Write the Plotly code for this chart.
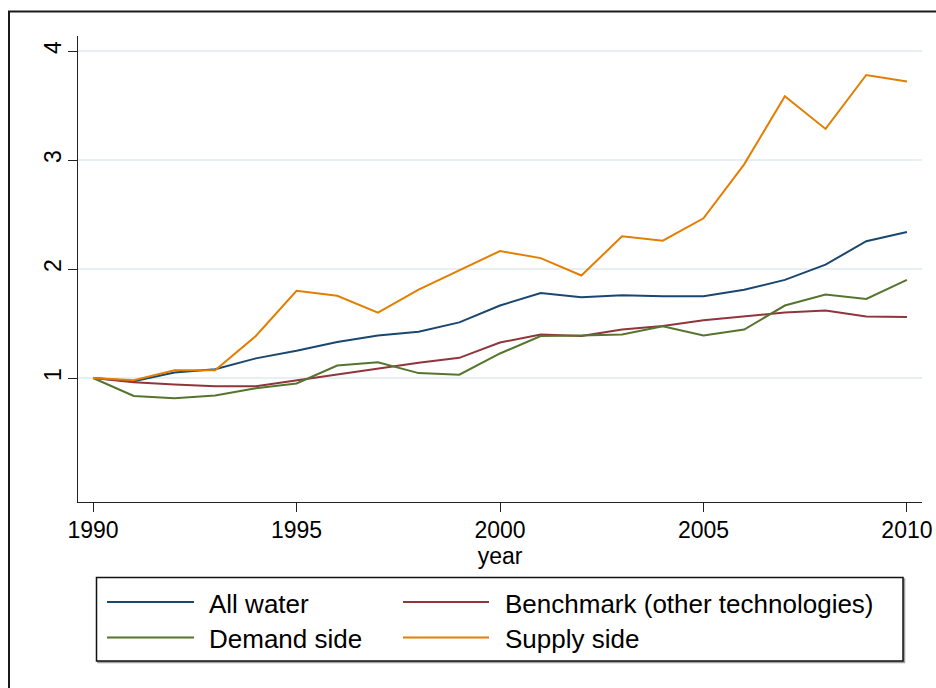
import plotly.graph_objects as go

years = list(range(1990, 2011))
all_water = [1.00, 0.97, 1.05, 1.08, 1.18, 1.25, 1.33, 1.39, 1.425, 1.51, 1.665,
             1.78, 1.74, 1.76, 1.75, 1.75, 1.81, 1.90, 2.04, 2.255, 2.34]
benchmark = [1.00, 0.96, 0.94, 0.925, 0.925, 0.98, 1.03, 1.085, 1.14, 1.185, 1.325,
             1.40, 1.385, 1.445, 1.478, 1.53, 1.565, 1.60, 1.62, 1.565, 1.56]
demand = [1.00, 0.835, 0.815, 0.84, 0.905, 0.95, 1.115, 1.145, 1.045, 1.03, 1.225,
          1.385, 1.39, 1.40, 1.475, 1.39, 1.445, 1.665, 1.765, 1.725, 1.90]
supply = [1.00, 0.98, 1.07, 1.07, 1.385, 1.80, 1.755, 1.60, 1.81, 1.99, 2.165,
          2.10, 1.94, 2.30, 2.26, 2.465, 2.96, 3.585, 3.285, 3.78, 3.72]

names = ["All water", "Benchmark (other technologies)", "Demand side", "Supply side"]
colors = ["#1a476f", "#90353b", "#55752f", "#e37e00"]
series = [all_water, benchmark, demand, supply]

FONT = "Liberation Sans, Arial, Helvetica, sans-serif"
OFF = 0  # body margin removed by post_script
W, H = 936, 688
L, R, T, B = 78, 14, 36, 186
PW, PH = W - L - R, H - T - B

def px(x):
    # page x -> paper x
    return (x - OFF - L) / PW

def py(y):
    # page y -> paper y
    return (H - B - (y - OFF)) / PH

fig = go.Figure()
for name, col, s in zip(names, colors, series):
    fig.add_trace(go.Scatter(x=years, y=s, mode="lines", name=name,
                             line=dict(color=col, width=2), showlegend=False))

shapes = []
# outer graph border (cropped on right and bottom)
shapes.append(dict(type="rect", xref="paper", yref="paper",
                   x0=px(9), x1=px(980), y0=py(11.5), y1=py(740),
                   line=dict(color="#1a1a1a", width=2), layer="below"))
# legend shadow and box
shapes.append(dict(type="rect", xref="paper", yref="paper",
                   x0=px(98), x1=px(904.5), y0=py(579), y1=py(662.5),
                   line=dict(color="#a0a0a0", width=1.5), fillcolor="#a0a0a0", layer="below"))
shapes.append(dict(type="rect", xref="paper", yref="paper",
                   x0=px(96.5), x1=px(903), y0=py(577.5), y1=py(661),
                   line=dict(color="#111111", width=1.5), fillcolor="white", layer="below"))

annotations = []
leg_pos = [(107, 194, 207, 602), (403, 489, 503, 602), (107, 194, 207, 637.5), (403, 489, 503, 637.5)]
for (x0, x1, xt, yy), name, col in zip(leg_pos, names, colors):
    shapes.append(dict(type="line", xref="paper", yref="paper",
                       x0=px(x0), x1=px(x1), y0=py(yy), y1=py(yy),
                       line=dict(color=col, width=2)))
    annotations.append(dict(xref="paper", yref="paper", x=px(xt), y=py(yy + 1.5),
                            text=name, showarrow=False, xanchor="left", yanchor="middle",
                            font=dict(family=FONT, size=26, color="black")))

fig.update_layout(
    width=W, height=H, autosize=False,
    margin=dict(l=L, r=R, t=T, b=B, pad=0, autoexpand=False),
    paper_bgcolor="white", plot_bgcolor="white",
    font=dict(family=FONT, color="black"),
    shapes=shapes, annotations=annotations,
    showlegend=False,
)
fig.update_xaxes(
    range=[1989.63, 2010.37], tickvals=[1990, 1995, 2000, 2005, 2010],
    automargin=False,
    showgrid=False, zeroline=False, showline=True, linecolor="#222222", linewidth=1.3,
    ticks="outside", ticklen=9, tickwidth=1.3, tickcolor="#222222",
    tickfont=dict(family=FONT, size=23, color="black"), ticklabelstandoff=-2,
    ticklabeloverflow="allow",
    title=dict(text="year", font=dict(family=FONT, size=23, color="black"), standoff=0),
)
fig.update_yaxes(
    range=[-0.1376, 4.1376], tickvals=[1, 2, 3, 4],
    automargin=False,
    showgrid=True, gridcolor="#e8eff2", gridwidth=2, zeroline=False,
    showline=True, linecolor="#222222", linewidth=1.3,
    ticks="outside", ticklen=9, tickwidth=1.3, tickcolor="#222222",
    tickangle=-90, tickfont=dict(family=FONT, size=23, color="black"), ticklabelstandoff=-2,
)

fig.write_html("out.html",
               config={"displayModeBar": False},
               post_script="document.body.style.margin='0';"
                           "document.documentElement.style.overflow='hidden';"
                           "document.body.style.overflow='hidden';")
